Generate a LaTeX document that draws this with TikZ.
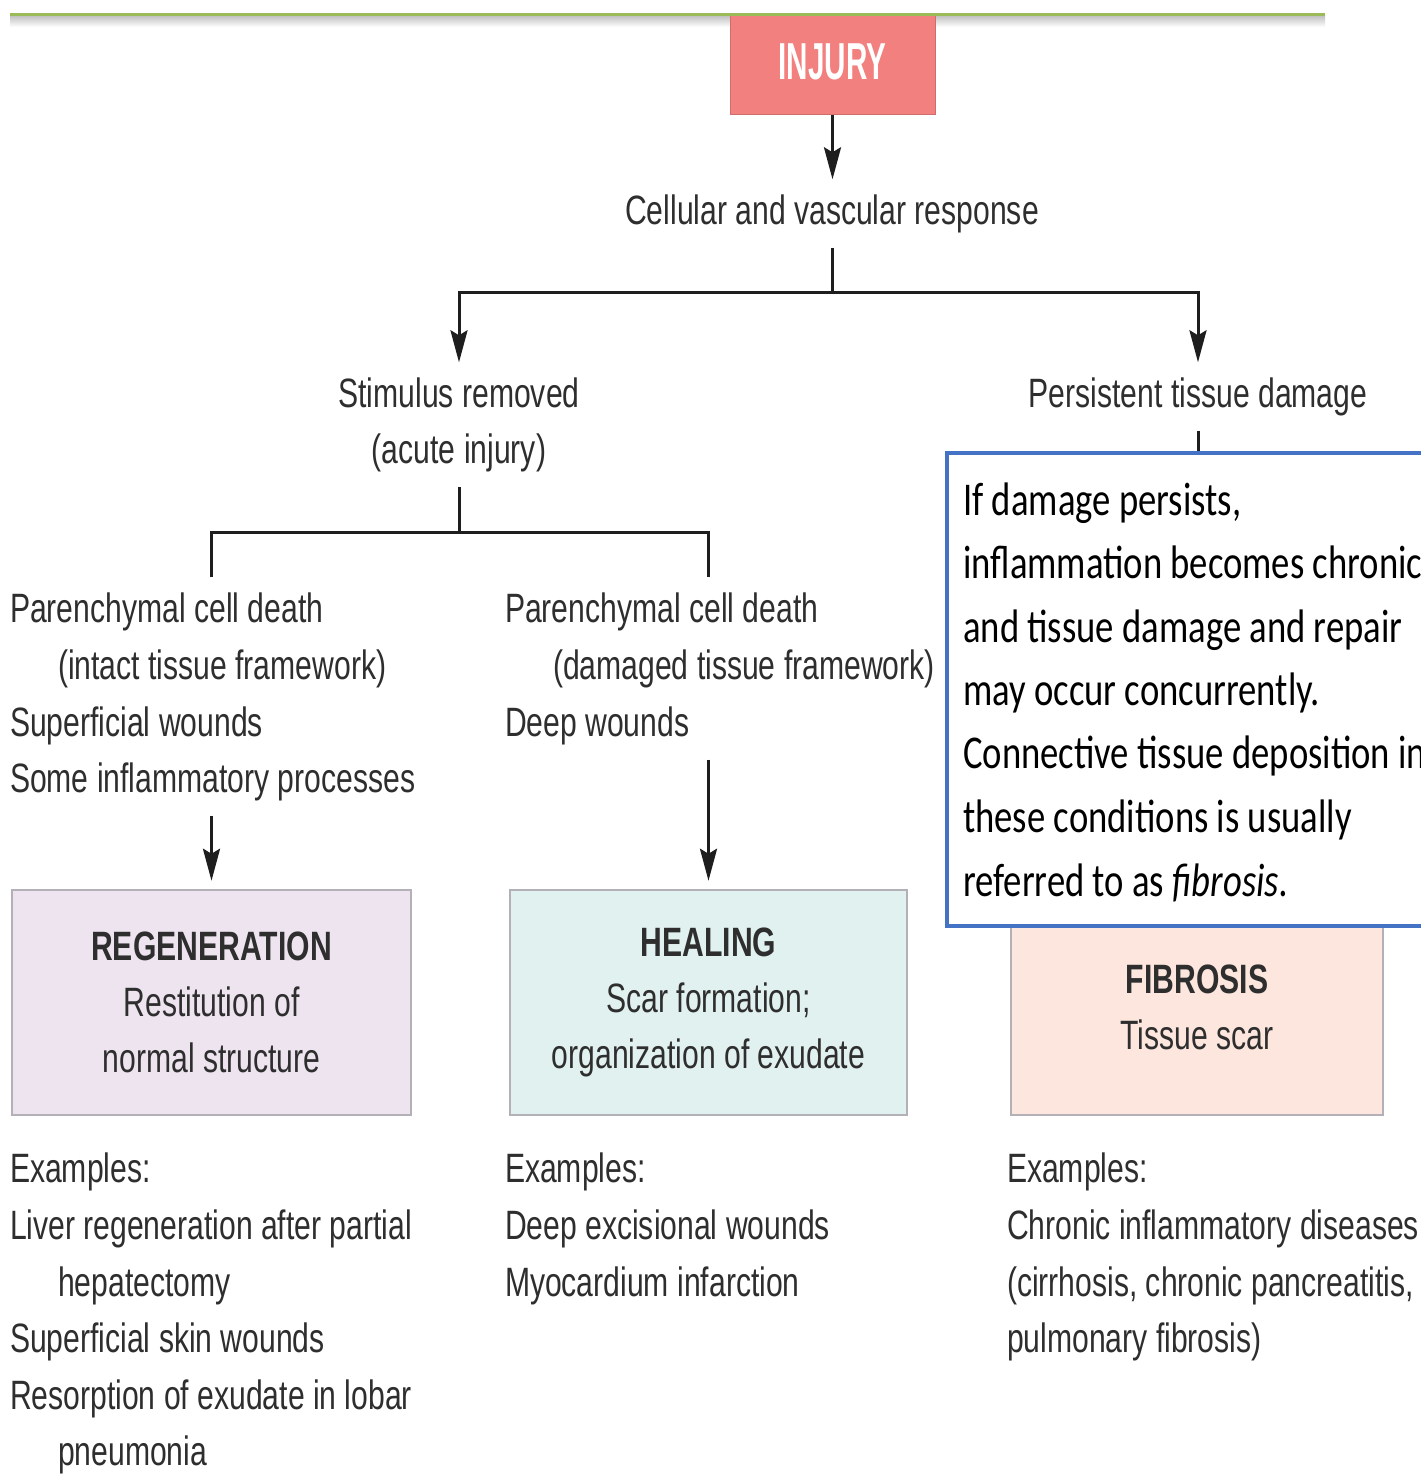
\documentclass[tikz,border=0pt]{standalone}
\usepackage{fontspec}
\usetikzlibrary{arrows.meta,calc}
\newfontfamily\arf{Liberation Sans}[FakeStretch=0.735]
\newfontfamily\injf{Liberation Sans}[FakeStretch=0.57]
\newfontfamily\calf{Carlito}[FakeStretch=0.78]
\definecolor{txtc}{HTML}{2E2E2E}
\definecolor{topgreen}{HTML}{9BBB59}
\definecolor{injred}{HTML}{F2807E}
\definecolor{regfill}{HTML}{EEE4F0}
\definecolor{healfill}{HTML}{E1F1EF}
\definecolor{fibfill}{HTML}{FCE6DE}
\definecolor{boxline}{HTML}{B4B0B8}
\definecolor{bluebox}{HTML}{4472C4}
\definecolor{linec}{HTML}{1E1E1E}
\begin{document}
\begin{tikzpicture}[x=1pt,y=-1pt,
  txt/.style={font=\arf\fontsize{41}{49}\selectfont, text=txtc, inner sep=0pt, outer xsep=0pt, outer ysep=15pt},
  caltxt/.style={font=\calf\fontsize{47}{56}\selectfont, text=black, inner sep=0pt, anchor=base west},
  outbox/.style={draw=boxline, line width=2.5pt, align=center, text=txtc, inner sep=0pt,
    font=\arf\fontsize{41}{56}\selectfont},
  ln/.style={draw=linec, line width=3pt},
  arr/.style={ln, -{Stealth[length=32pt,width=17pt,inset=5pt]}}]
\useasboundingbox (0,0) rectangle (1421,1475);
\fill[white] (0,0) rectangle (1421,1475);
\clip (0,0) rectangle (1421,1475);

% top rule
\shade[top color=gray!50, bottom color=white] (10,15.5) rectangle (1325,27);
\node[draw=injred!85!black, line width=1pt, fill=injred, minimum width=205pt, minimum height=99pt,
  inner sep=0pt, text=white, font=\injf\bfseries\fontsize{52}{60}\selectfont] (injury) at (832.5,65) {\raisebox{6pt}{INJURY}};
\draw[topgreen, line width=3pt] (10,14) -- (1325,14);

% upper text
\node[txt, anchor=base] (cellular) at (832,224) {Cellular and vascular response};
\node[txt, anchor=base] (stim) at (459,407) {Stimulus removed};
\node[txt, anchor=base] (acute) at (459,463) {(acute injury)};
\node[txt, anchor=base] (persist) at (1198,407) {Persistent tissue damage};

% left block
\node[txt, anchor=base west] (pl1) at (10,622) {Parenchymal cell death};
\node[txt, anchor=base west] (pl2) at (58,679) {(intact tissue framework)};
\node[txt, anchor=base west] (pl3) at (10,736) {Superficial wounds};
\node[txt, anchor=base west] (pl4) at (10,792) {Some inflammatory processes};
% middle block
\node[txt, anchor=base west] (pm1) at (505,622) {Parenchymal cell death};
\node[txt, anchor=base west] (pm2) at (553,679) {(damaged tissue framework)};
\node[txt, anchor=base west] (pm3) at (505,736) {Deep wounds};

% outcome boxes
\node[outbox, fill=regfill, minimum width=399pt, minimum height=225pt] (regen) at (211.5,1002.5)
  {\textbf{REGENERATION}\\Restitution of\\normal structure};
\node[outbox, fill=healfill, minimum width=397pt, minimum height=225pt] (heal) at (708.5,1002.5)
  {\textbf{HEALING}\\Scar formation;\\organization of exudate};
\node[outbox, fill=fibfill, minimum width=372pt, minimum height=215pt] (fib) at (1197,1007.5)
  {\textbf{FIBROSIS}\\Tissue scar};

% blue call-out box
\node[draw=bluebox, line width=4pt, fill=white, minimum width=500pt, minimum height=473pt, inner sep=0pt] (blue) at (1197,689.5) {};
\node[caltxt] (b1) at (963,515) {If damage persists,};
\node[caltxt] (b2) at (963,578) {inflammation becomes chronic};
\node[caltxt] (b3) at (963,642) {and tissue damage and repair};
\node[caltxt] (b4) at (963,705) {may occur concurrently.};
\node[caltxt] (b5) at (963,768) {Connective tissue deposition in};
\node[caltxt] (b6) at (963,832) {these conditions is usually};
\node[caltxt] (b7) at (963,896) {referred to as \textit{fibrosis.}};

% examples
\node[txt, anchor=base west] (exL1) at (10,1182) {Examples:};
\node[txt, anchor=base west] (exL2) at (10,1239) {Liver regeneration after partial};
\node[txt, anchor=base west] (exL3) at (58,1296) {hepatectomy};
\node[txt, anchor=base west] (exL4) at (10,1352) {Superficial skin wounds};
\node[txt, anchor=base west] (exL5) at (10,1409) {Resorption of exudate in lobar};
\node[txt, anchor=base west] (exL6) at (58,1465) {pneumonia};
\node[txt, anchor=base west] (exM1) at (505,1182) {Examples:};
\node[txt, anchor=base west] (exM2) at (505,1239) {Deep excisional wounds};
\node[txt, anchor=base west] (exM3) at (505,1296) {Myocardium infarction};
\node[txt, anchor=base west] (exR1) at (1007,1182) {Examples:};
\node[txt, anchor=base west] (exR2) at (1007,1239) {Chronic inflammatory diseases};
\node[txt, anchor=base west] (exR3) at (1007,1296) {(cirrhosis, chronic pancreatitis,};
\node[txt, anchor=base west] (exR4) at (1007,1352) {pulmonary fibrosis)};

% connectors
\coordinate (j1) at (832,292);
\coordinate (j2) at (459,532);
\draw[arr] (injury.south) -- (injury.south |- cellular.north);
\draw[ln] (cellular.south) -- (j1);
\draw[arr] (j1) -| (stim.north);
\draw[arr] (j1) -| (persist.north);
\draw[ln] (persist.south) -- (persist.south |- blue.north);
\draw[ln] (acute.south) -- (j2);
\draw[ln] (j2) -| (regen.north |- pl1.north);
\draw[ln] (j2) -| (heal.north |- pm1.north);
\draw[arr, shorten >=8pt] (regen.north |- pl4.south) -- (regen.north);
\draw[arr, shorten >=8pt] (heal.north |- pm3.south) -- (heal.north);
\end{tikzpicture}
\end{document}
